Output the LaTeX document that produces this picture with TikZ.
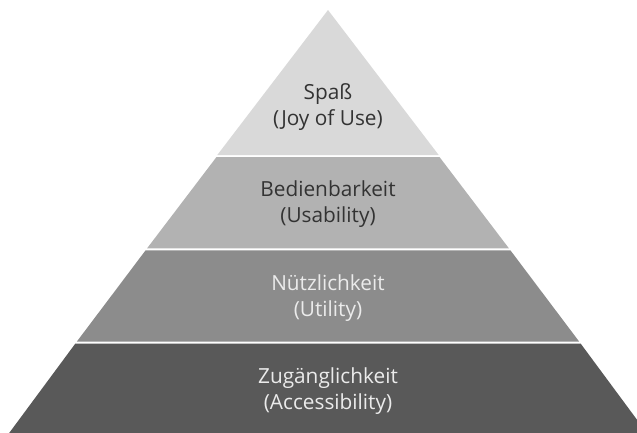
\documentclass[tikz,border=0pt]{standalone}
\usepackage{fontspec}
\setmainfont{Open Sans}

\begin{document}
\begin{tikzpicture}[x=1pt,y=-1pt,
  tier/.style={draw=none},
  tiertext/.style={align=center,font=\fontsize{20.8}{26}\selectfont}]
  \useasboundingbox (0,0) rectangle (637,432);
  \clip (0,0) rectangle (637,432);

  % the four tiers, apex at (328,10)
  \fill[tier,fill=black!15] (328,10) -- (438.7,155) -- (217.3,155) -- cycle;
  \fill[tier,fill=black!30] (216.5,157) -- (439.5,157) -- (508.9,248.3) -- (147.1,248.3) -- cycle;
  \fill[tier,fill=black!45] (145.6,250.3) -- (510.4,250.3) -- (579.1,341.5) -- (76.9,341.5) -- cycle;
  \fill[tier,fill=black!65] (75.4,343.5) -- (580.6,343.5) -- (652,440) -- (4,440) -- cycle;

  \node[tiertext,text=black!80] (joy) at (328,107) {Spaß\\(Joy of Use)};
  \node[tiertext,text=black!80] (usability) at (328,204) {Bedienbarkeit\\(Usability)};
  \node[tiertext,text=white!92!black] (utility) at (328,298) {Nützlichkeit\\(Utility)};
  \node[tiertext,text=white!92!black] (access) at (328,391) {Zugänglichkeit\\(Accessibility)};

\end{tikzpicture}
\end{document}
